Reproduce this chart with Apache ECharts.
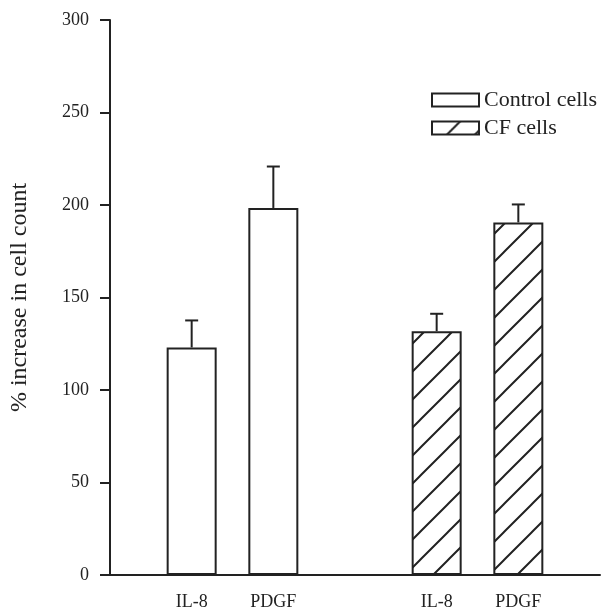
<!DOCTYPE html>
<html>
<head>
<meta charset="utf-8">
<script src="https://cdn.jsdelivr.net/npm/echarts@6/dist/echarts.min.js"></script>
<style>
  html, body { margin: 0; padding: 0; background: #fff; }
  #chart { width: 604px; height: 609px; }
</style>
</head>
<body>
<div id="chart"></div>
<script>
// positions on the x axis (empty slots give the gaps)
var categories = ['', 'IL-8', 'PDGF', '', 'IL-8', 'PDGF', ''];
var seriesNames = ['Control cells', 'CF cells'];
// bar heights
var controlValues = ['-', 123, 198.4, '-', '-', '-', '-'];
var cfValues = ['-', '-', '-', '-', 131.8, 190.6, '-'];
// top of the error bars
var controlUpper = ['-', 137.6, 220.8, '-', '-', '-', '-'];
var cfUpper = ['-', '-', '-', '-', 141.2, 200.3, '-'];
var yTicks = [0, 50, 100, 150, 200, 250, 300];

var FONT = '"Liberation Serif", "DejaVu Serif", serif';

// hatch tile for the CF bars
function makeHatch() {
  var s = 28;
  var c = document.createElement('canvas');
  c.width = s; c.height = s;
  var ctx = c.getContext('2d');
  ctx.fillStyle = '#fff';
  ctx.fillRect(0, 0, s, s);
  ctx.strokeStyle = '#222';
  ctx.lineWidth = 2;
  ctx.beginPath();
  ctx.moveTo(-2, s + 2); ctx.lineTo(s + 2, -2);
  ctx.moveTo(-2, 2); ctx.lineTo(2, -2);
  ctx.moveTo(s - 2, s + 2); ctx.lineTo(s + 2, s - 2);
  ctx.stroke();
  return c;
}

function errData(vals, upper) {
  var out = [];
  for (var i = 0; i < vals.length; i++) {
    if (vals[i] !== '-') out.push([i, vals[i], upper[i]]);
  }
  return out;
}

var chart = echarts.init(document.getElementById('chart'));

chart.setOption({
  backgroundColor: '#fff',
  animation: false,
  textStyle: { fontFamily: FONT },
  grid: { left: 110, right: 4, top: 20, bottom: 34, containLabel: false, outerBoundsMode: 'none' },
  legend: {
    orient: 'vertical',
    left: 431,
    top: 89,
    padding: 0,
    itemWidth: 47,
    itemHeight: 13,
    itemGap: 6,
    icon: 'rect',
    textStyle: { fontFamily: FONT, fontSize: 22, color: '#222', lineHeight: 22 },
    data: seriesNames
  },
  xAxis: {
    type: 'category',
    data: categories,
    boundaryGap: false,
    axisLine: { show: true, lineStyle: { color: '#222', width: 2 } },
    axisTick: { show: false },
    axisLabel: { interval: 0, margin: 18, fontFamily: FONT, fontSize: 18, color: '#222' },
    splitLine: { show: false }
  },
  yAxis: {
    type: 'value',
    min: yTicks[0],
    max: yTicks[yTicks.length - 1],
    interval: 50,
    name: '% increase in cell count',
    nameLocation: 'middle',
    nameRotate: 90,
    nameGap: 78,
    nameTextStyle: { fontFamily: FONT, fontSize: 24, color: '#222' },
    axisLine: { show: true, lineStyle: { color: '#222', width: 2 } },
    axisTick: { show: true, length: 10, lineStyle: { color: '#222', width: 2 } },
    axisLabel: { margin: 21, fontFamily: FONT, fontSize: 18, color: '#222' },
    splitLine: { show: false }
  },
  series: [
    {
      name: seriesNames[0],
      type: 'bar',
      data: controlValues,
      barWidth: 50,
      barGap: '-100%',
      itemStyle: { color: '#fff', borderColor: '#222', borderWidth: 2 }
    },
    {
      name: seriesNames[1],
      type: 'bar',
      data: cfValues,
      barWidth: 50,
      barGap: '-100%',
      itemStyle: { color: { image: makeHatch(), repeat: 'repeat' }, borderColor: '#222', borderWidth: 2 }
    },
    {
      type: 'custom',
      silent: true,
      data: errData(controlValues, controlUpper).concat(errData(cfValues, cfUpper)),
      renderItem: function (params, api) {
        var base = api.coord([api.value(0), api.value(1)]);
        var top = api.coord([api.value(0), api.value(2)]);
        var st = { stroke: '#222', lineWidth: 2 };
        return {
          type: 'group',
          children: [
            { type: 'line', shape: { x1: base[0], y1: base[1], x2: top[0], y2: top[1] }, style: st },
            { type: 'line', shape: { x1: top[0] - 6.5, y1: top[1], x2: top[0] + 6.5, y2: top[1] }, style: st }
          ]
        };
      }
    }
  ]
});
</script>
</body>
</html>
